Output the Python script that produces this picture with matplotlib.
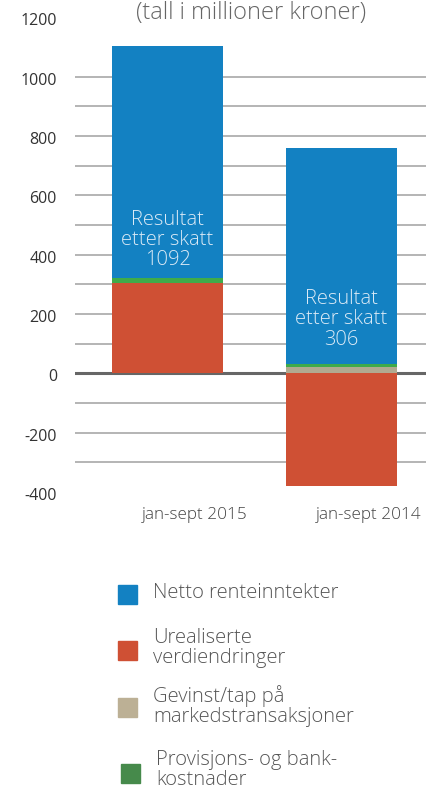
import numpy as np
import matplotlib
matplotlib.use("Agg")
import matplotlib.pyplot as plt
from matplotlib.patches import Rectangle
from matplotlib.transforms import ScaledTranslation

plt.rcParams['font.family'] = ['Open Sans', 'DejaVu Sans']
plt.rcParams['font.weight'] = 'light'
plt.rcParams['axes.unicode_minus'] = False

# data (mill. kr)
categories = ["jan-sept 2015", "jan-sept 2014"]
urealiserte = [305, -380]
gevinst = [0, 22]
provisjon = [17, 11]
netto = [781, 727]
resultat = [1092, 306]

series_names = ["Netto renteinntekter", "Urealiserte\nverdiendringer",
                "Gevinst/tap på\nmarkedstransaksjoner", "Provisjons- og bank-\nkostnader"]
bar_colors = {"netto": "#1381c2", "urealiserte": "#cf5034",
              "gevinst": "#b1aa90", "provisjon": "#3fab4a"}
legend_colors = ["#1381c2", "#cf5034", "#bcb095", "#468a4b"]

fig = plt.figure(figsize=(4.27, 7.90), dpi=100)
ax = fig.add_axes([75 / 427, 1 - 492 / 790, 1 - 75 / 427, (492 - 17.4) / 790])

x = np.arange(len(categories))
width = 0.638

# grid lines
for g in np.arange(-300, 1001, 100):
    if g == 0:
        continue
    ax.axhline(g, color="#a0a0a0", lw=1.1, zorder=0)
ax.axhline(0, color="#666666", lw=2.2, zorder=1)

pos_base = np.zeros(len(x))
neg_base = np.zeros(len(x))
stack = [(urealiserte, "urealiserte"), (gevinst, "gevinst"),
         (provisjon, "provisjon"), (netto, "netto")]
for vals, key in stack:
    v = np.array(vals, dtype=float)
    bottom = np.where(v >= 0, pos_base, neg_base)
    ax.bar(x, v, width, bottom=bottom, color=bar_colors[key], zorder=2)
    pos_base = pos_base + np.where(v >= 0, v, 0)
    neg_base = neg_base + np.where(v < 0, v, 0)

# result labels inside blue bars
label_y = [450, 182]
for i, r in enumerate(resultat):
    ax.text(x[i], label_y[i], "Resultat\netter skatt\n%d" % r, ha="center", va="center",
            color="#dbeaf6", fontsize=14.5, linespacing=1.02, zorder=4)

ax.set_xlim(-0.532, 1.491)
ax.set_ylim(-400, 1200)
ax.set_yticks(np.arange(-400, 1201, 200))
ax.tick_params(axis="y", length=0, pad=13, labelsize=11.5, labelcolor="#333333")
ax.set_xticks(x)
ax.set_xticklabels(categories)
ax.tick_params(axis="x", length=0, pad=11, labelsize=12.3, labelcolor="#444444")
for lab in ax.get_xticklabels():
    lab.set_transform(lab.get_transform() + ScaledTranslation(0.27, 0, fig.dpi_scale_trans))
for lab in ax.get_yticklabels():
    lab.set_fontweight("normal")
    lab.set_transform(lab.get_transform() + ScaledTranslation(0, -0.02, fig.dpi_scale_trans))
for s in ax.spines.values():
    s.set_visible(False)

fig.text(251 / 427, 1 - 13 / 790, "(tall i millioner kroner)", ha="center", va="center",
         fontsize=17, color="#666666")

# legend
sq_pos = [(118, 585), (118, 641), (118, 698), (121, 764)]
txt_pos = [(153, 593), (153, 648), (153, 706.5), (156, 770)]
for i, name in enumerate(series_names):
    sx, sy = sq_pos[i]
    fig.patches.append(Rectangle((sx / 427, 1 - (sy + 19) / 790), 19 / 427, 19 / 790,
                                 transform=fig.transFigure, color=legend_colors[i]))
    tx, ty = txt_pos[i]
    fig.text(tx / 427, 1 - ty / 790, name, ha="left", va="center", fontsize=14.5,
             color="#555555", linespacing=1.0)

fig.savefig("out.png", dpi=100)
